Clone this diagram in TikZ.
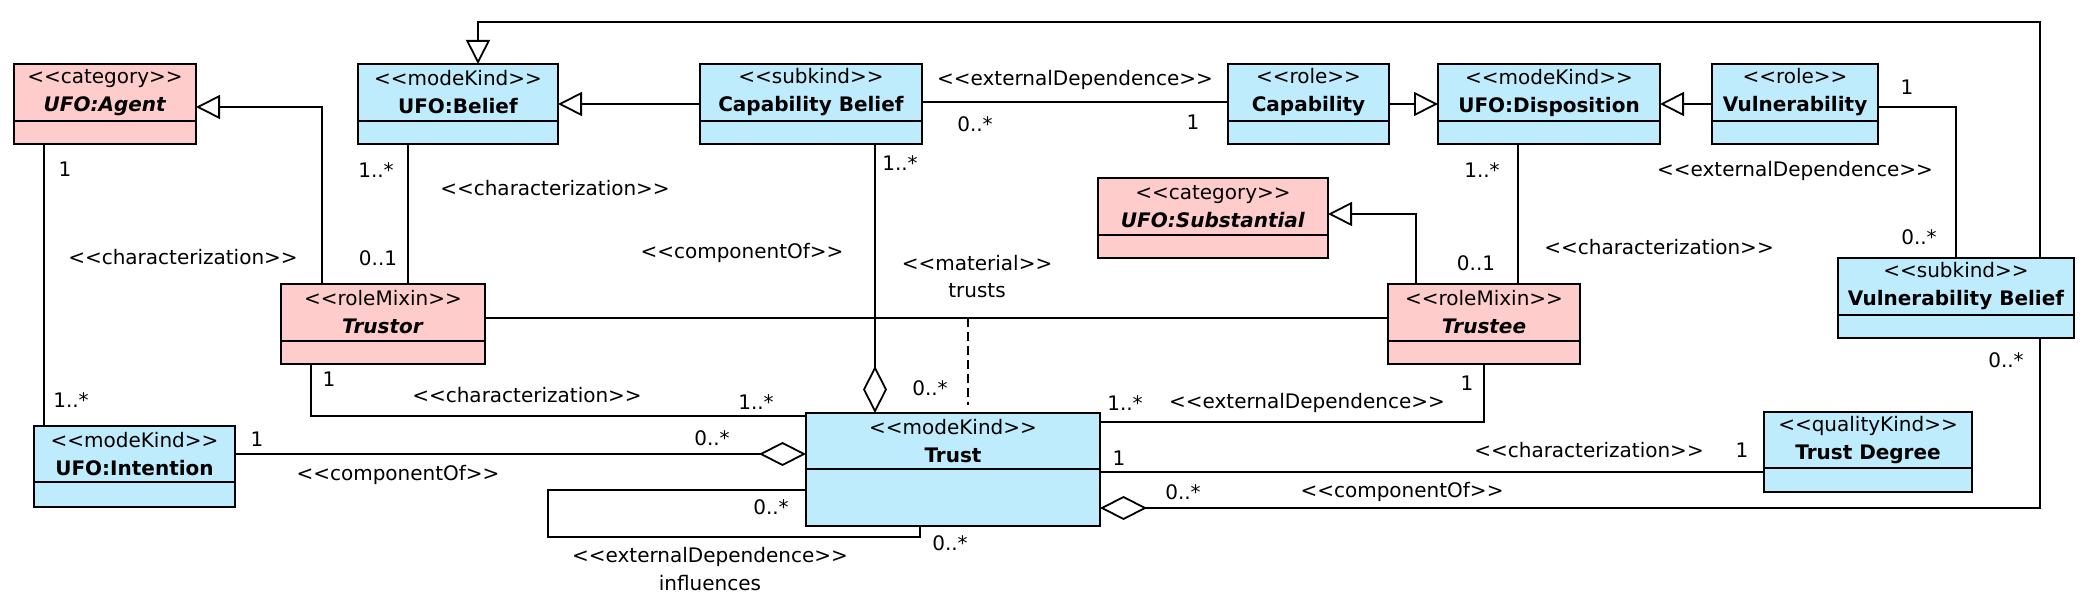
\documentclass[tikz,border=0pt]{standalone}
\usepackage{fontspec}
\setmainfont{DejaVu Sans}[Ligatures=TeXOff, BoldItalicFont={DejaVu Sans Bold Oblique}]
\usetikzlibrary{arrows.meta}
\definecolor{umlblue}{RGB}{191,236,252}
\definecolor{umlpink}{RGB}{255,204,204}

\begin{document}
\begin{tikzpicture}[x=0.5pt, y=-0.5pt, line width=0.9pt,
	font=\fontsize{10}{14}\selectfont,
	clsname/.style={draw, inner sep=0pt, outer sep=0pt, align=center, anchor=north west, minimum height=28.5pt},
	clsattr/.style={draw, inner sep=0pt, outer sep=0pt, anchor=north, minimum height=11.5pt},
	gen/.style={-{Triangle[open, length=12pt, width=12pt]}},
	aggr/.style={-{Diamond[open, length=23.5pt, width=12pt]}},
	lbl/.style={inner sep=0pt}]
	\useasboundingbox (0,0) rectangle (2094,598);

	\node[clsname, fill=umlpink, minimum width=91pt] (agent) at (14,64) {<<category>>\\\textbf{\textit{UFO:Agent}}};
	\node[clsattr, fill=umlpink, minimum width=91pt] (agentA) at (agent.south) {};
	\node[clsname, fill=umlblue, minimum width=100pt] (belief) at (358,64) {<<modeKind>>\\\textbf{UFO:Belief}};
	\node[clsattr, fill=umlblue, minimum width=100pt] (beliefA) at (belief.south) {};
	\node[clsname, fill=umlblue, minimum width=111pt] (capbelief) at (700,64) {<<subkind>>\\\textbf{Capability Belief}};
	\node[clsattr, fill=umlblue, minimum width=111pt] (capbeliefA) at (capbelief.south) {};
	\node[clsname, fill=umlblue, minimum width=80.5pt] (capability) at (1228,64) {<<role>>\\\textbf{Capability}};
	\node[clsattr, fill=umlblue, minimum width=80.5pt] (capabilityA) at (capability.south) {};
	\node[clsname, fill=umlblue, minimum width=111pt] (disposition) at (1438,64) {<<modeKind>>\\\textbf{UFO:Disposition}};
	\node[clsattr, fill=umlblue, minimum width=111pt] (dispositionA) at (disposition.south) {};
	\node[clsname, fill=umlblue, minimum width=83pt] (vulnerability) at (1712,64) {<<role>>\\\textbf{Vulnerability}};
	\node[clsattr, fill=umlblue, minimum width=83pt] (vulnerabilityA) at (vulnerability.south) {};
	\node[clsname, fill=umlpink, minimum width=115pt] (substantial) at (1098,178) {<<category>>\\\textbf{\textit{UFO:Substantial}}};
	\node[clsattr, fill=umlpink, minimum width=115pt] (substantialA) at (substantial.south) {};
	\node[clsname, fill=umlpink, minimum width=102pt] (trustor) at (281,284) {<<roleMixin>>\\\textbf{\textit{Trustor}}};
	\node[clsattr, fill=umlpink, minimum width=102pt] (trustorA) at (trustor.south) {};
	\node[clsname, fill=umlpink, minimum width=96pt] (trustee) at (1388,284) {<<roleMixin>>\\\textbf{\textit{Trustee}}};
	\node[clsattr, fill=umlpink, minimum width=96pt] (trusteeA) at (trustee.south) {};
	\node[clsname, fill=umlblue, minimum width=118pt] (vbelief) at (1838,258) {<<subkind>>\\\textbf{Vulnerability Belief}};
	\node[clsattr, fill=umlblue, minimum width=118pt] (vbeliefA) at (vbelief.south) {};
	\node[clsname, fill=umlblue, minimum width=100.5pt, minimum height=28pt] (intention) at (34,426) {<<modeKind>>\\\textbf{UFO:Intention}};
	\node[clsattr, fill=umlblue, minimum width=100.5pt, minimum height=12.5pt] (intentionA) at (intention.south) {};
	\node[clsname, fill=umlblue, minimum width=147pt, minimum height=28pt] (trust) at (806,413) {<<modeKind>>\\\textbf{Trust}};
	\node[clsattr, fill=umlblue, minimum width=147pt, minimum height=28.5pt] (trustA) at (trust.south) {};
	\node[clsname, fill=umlblue, minimum width=104pt, minimum height=28pt] (tdegree) at (1764,412) {<<qualityKind>>\\\textbf{Trust Degree}};
	\node[clsattr, fill=umlblue, minimum width=104pt, minimum height=12pt] (tdegreeA) at (tdegree.south) {};

	\draw[gen] ([xshift=42pt]vbelief.north) -- ++(0,-236) -| ([xshift=10pt]belief.north);
	\draw[gen] ([yshift=-5.75pt]capbelief.west) -- ([yshift=-5.75pt]belief.east);
	\draw ([yshift=-4.75pt]capbelief.east) -- ([yshift=-4.75pt]capability.west);
	\draw[gen] ([yshift=-5.75pt]capability.east) -- ([yshift=-5.75pt]disposition.west);
	\draw[gen] ([yshift=-5.75pt]vulnerability.west) -- ([yshift=-5.75pt]disposition.east);
	\draw ([yshift=-7.25pt]vulnerability.east) -| (vbelief.north);
	\draw[gen] ([xshift=-30.5pt]trustor.north) |- ([yshift=-7.25pt]agent.east);
	\draw ([xshift=-25pt]beliefA.south) -- ([xshift=12.5pt]trustor.north);
	\draw ([xshift=-30.5pt]agentA.south) -- ([xshift=-45.25pt]intention.north);
	\draw[aggr] ([xshift=32pt]capbeliefA.south) -- ([xshift=-39pt]trust.north);
	\draw ([yshift=-2.75pt]trustor.east) coordinate (matl) -- ([yshift=-2.75pt]trustee.west);
	\coordinate (matr) at ([xshift=7.5pt]trust.north);
	\draw[dash pattern=on 4.5pt off 2.5pt, shorten >=4pt] (matl -| matr) -- (matr);
	\draw ([xshift=-36pt]trustorA.south) |- ([yshift=12.5pt]trust.west);
	\draw[aggr] (intention.east) -- (intention.east -| trust.west);
	\draw ([yshift=3.75pt]trustA.west) -- ++(-258,0) -- ++(0,47) -| ([xshift=-16.5pt]trustA.south);
	\draw (trusteeA.south) |- ([yshift=9.5pt]trust.east);
	\draw ([yshift=12.75pt]trustA.east) coordinate (tq) -- (tq -| tdegree.west);
	\draw[aggr] ([xshift=42pt]vbeliefA.south) |- ([yshift=-5.25pt]trustA.east);
	\draw[gen] ([xshift=-34pt]trustee.north) |- ([yshift=-3.75pt]substantial.east);
	\draw ([xshift=-15.5pt]dispositionA.south) -- ([xshift=17pt]trustee.north);

	\foreach \x/\y/\t [count=\i] in {65/169/1, 183/257/<<characterization>>, 71/400/1..*,
		376/170/1..*, 555/188/<<characterization>>, 378/258/0..1,
		1075/80/<<externalDependence>>, 975/124/0..*, 1193/122/1,
		900/163/1..*, 742/253/<<componentOf>>, 930/388/0..*,
		977/263/<<material>>, 977/291/trusts,
		329/379/1, 527/395/<<characterization>>, 756/402/1..*,
		257/439/1, 398/475/<<componentOf>>, 712/438/0..*,
		771/507/0..*, 950/543/0..*, 710/557/<<externalDependence>>, 710/583/influences,
		1467/383/1, 1125/403/1..*, 1307/403/<<externalDependence>>,
		1119/458/1, 1589/450/<<characterization>>, 1742/450/1,
		2006/360/0..*, 1183/492/0..*, 1402/492/<<componentOf>>,
		1482/170/1..*, 1476/263/0..1, 1659/247/<<characterization>>,
		1907/87/1, 1795/171/<<externalDependence>>, 1919/237/0..*}
		\node[lbl] (lab\i) at (\x,\y) {\t};
\end{tikzpicture}
\end{document}
